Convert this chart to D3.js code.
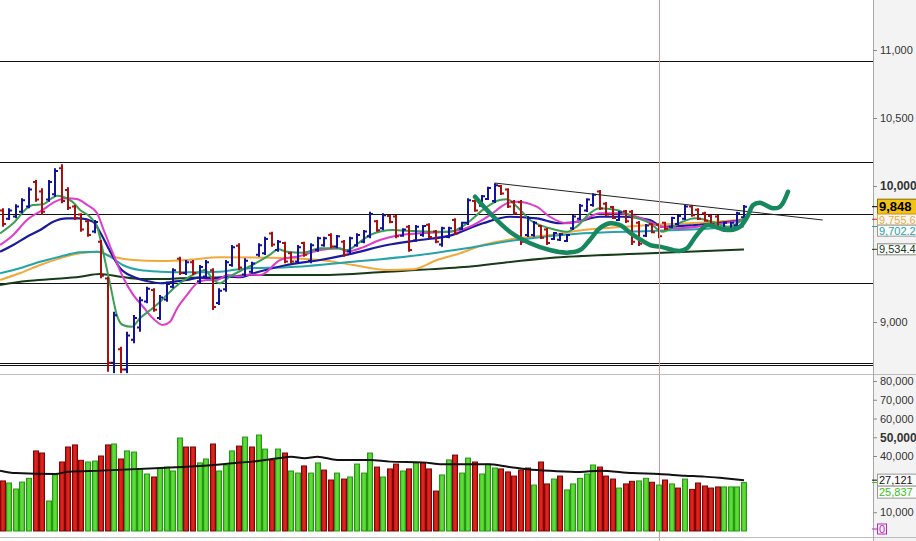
<!DOCTYPE html>
<html><head><meta charset="utf-8">
<script src="https://cdn.jsdelivr.net/npm/d3@7"></script>
<style>body{margin:0;background:#fff;}svg{display:block;font-family:"Liberation Sans",Arial,sans-serif;}</style>
</head><body><svg id="c" width="916" height="541"></svg>
<script>
// ---------- DATA ----------
const barOpen=[9820,9760,9775,9810,9850,10030,9960,9900,9940,10130,
9970,9850,9790,9740,9665,9590,9320,8700,8800,8650,
8870,8960,9150,9235,9030,9165,9260,9465,9360,9440,
9300,9335,9380,9140,9240,9420,9560,9350,9370,9495,
9505,9650,9530,9580,9505,9445,9580,9450,9530,9565,
9640,9555,9590,9520,9565,9590,9630,9740,9690,9780,
9775,9635,9700,9600,9640,9715,9665,9570,9625,9750,
9685,9730,9890,9855,9905,9890,10000,9975,9885,9880,
9640,9640,9705,9680,9610,9605,9595,9690,9760,9820,
9860,9960,9870,9845,9750,9815,9810,9730,9635,9720,
9715,9730,9700,9720,9760,9850,9825,9800,9780,9775,
9675,9675,9710,9770];
const barHigh=[9836,9836,9865,9910,9990,10044,9983,10044,10130,10160,
9990,9860,9799,9750,9750,9603,9333,9076,8818,8929,
9051,9186,9260,9248,9199,9296,9395,9480,9456,9456,
9419,9456,9395,9248,9456,9566,9579,9468,9443,9579,
9627,9664,9603,9590,9517,9566,9590,9579,9627,9627,
9652,9640,9603,9627,9652,9676,9811,9750,9799,9787,
9787,9689,9713,9713,9713,9726,9676,9701,9701,9762,
9738,9910,9897,9934,9995,10020,10007,9983,9897,9897,
9779,9743,9713,9691,9662,9654,9647,9787,9868,9910,
9946,9971,9882,9853,9816,9824,9824,9743,9721,9726,
9726,9738,9774,9787,9860,9860,9836,9811,9787,9787,
9738,9738,9811,9860];
const barLow=[9701,9750,9762,9799,9836,9885,9787,9885,9921,9873,
9824,9750,9664,9627,9652,9321,8635,8623,8623,8623,
8843,8929,9137,9076,9015,9149,9248,9346,9346,9346,
9285,9321,9088,9125,9223,9407,9382,9333,9358,9480,
9493,9554,9517,9432,9432,9432,9480,9432,9517,9554,
9542,9542,9480,9505,9554,9579,9615,9664,9676,9726,
9615,9627,9517,9590,9627,9615,9579,9554,9615,9640,
9676,9713,9811,9848,9897,9875,9934,9838,9787,9566,
9625,9627,9610,9566,9603,9596,9588,9676,9750,9809,
9848,9824,9779,9757,9743,9728,9566,9559,9625,9652,
9615,9676,9689,9713,9750,9774,9750,9738,9713,9676,
9664,9664,9701,9762];
const barClose=[9720,9820,9850,9895,9975,9900,9810,10030,10110,9890,
9840,9765,9680,9640,9735,9340,8700,9050,8650,8900,
9030,9160,9245,9090,9180,9280,9380,9360,9440,9360,
9405,9440,9110,9230,9440,9550,9400,9450,9430,9565,
9610,9570,9590,9445,9445,9550,9495,9565,9615,9615,
9555,9630,9495,9615,9640,9665,9795,9675,9785,9735,
9630,9680,9530,9700,9705,9625,9590,9690,9690,9650,
9730,9895,9820,9925,9985,10005,9945,9850,9800,9590,
9765,9730,9620,9580,9655,9645,9640,9775,9855,9900,
9935,9835,9790,9765,9805,9740,9590,9575,9710,9660,
9630,9685,9765,9780,9850,9785,9760,9745,9720,9690,
9730,9730,9800,9848];
const volume=[26700,25600,22400,26100,28100,42700,41600,16000,29900,36800,
44800,45900,37700,36800,37300,40000,45900,46400,38400,42700,
42100,33100,30400,28800,33600,34100,32000,49600,44800,44800,
36300,38400,46400,32000,35200,42700,45300,50100,44800,51200,
43700,37900,43700,41600,32000,30900,34700,30900,36300,32500,
27200,30900,27700,28800,35700,30900,41600,34100,28800,33100,
35700,32000,33100,36300,36300,33100,21300,29900,37900,40500,
30900,38900,36800,30400,35700,33600,33100,31500,29300,32500,
33600,24500,36800,25100,27700,29300,21900,25100,28100,30400,
35200,34100,29300,27700,22900,25100,26500,26700,28100,26000,
24500,27200,25100,22900,27700,22200,25600,24000,22900,23500,
23500,23500,23500,25837];
const volDir=("rggggrrggr"+"rrrggrrgrg"+"gggrggggrr"+"ggrgggrgrg"+"grgrggrggr"+
"rgrggggrgr"+"rgrgrrrggr"+"ggrgggrrrr"+"rgrrgrgggg"+"grrrgrrggr"+"grgrgrrrrr"+"gggg").split("");

// moving averages: [bar index, value]
const maGreen=[[-0.4,9652],[1.6,9726],[3.7,9836],[4.6,9860],[6.1,9865],[7.5,9910],[8.3,9929],[9.2,9921],[10.6,9885],[11.8,9824],[13.3,9774],[14.4,9701],[15.3,9517],[16.4,9272],[17.4,9051],[18.3,8978],[19.7,8965],[20.9,9027],[22.5,9088],[24,9149],[25.5,9223],[27,9285],[28.5,9333],[30.1,9370],[30.8,9382],[32.1,9309],[33.1,9285],[34.6,9333],[36.2,9375],[37.7,9410],[40.7,9493],[42,9535],[43.3,9517],[45.8,9510],[48.4,9542],[50.9,9542],[52.5,9529],[54.5,9590],[56,9640],[59.5,9676],[61.6,9671],[65.6,9664],[68.2,9664],[70.8,9726],[73.2,9824],[75.8,9897],[76.9,9902],[78.4,9848],[80.4,9750],[83.4,9689],[86,9664],[87.5,9701],[89.5,9799],[91,9836],[93.6,9824],[96.1,9774],[98.7,9726],[100.5,9664],[103.6,9737],[105.5,9762],[108.1,9737],[110.6,9701],[113,9762]];
const maMagenta=[[-0.4,9566],[1.6,9640],[3.7,9750],[6.1,9824],[8,9885],[9.8,9910],[11.3,9904],[12.9,9860],[14.4,9799],[15.3,9689],[16.8,9505],[18.3,9333],[19.9,9199],[21.4,9112],[22.9,9027],[24.4,8978],[25.5,9002],[26.6,9101],[28.1,9199],[29.6,9285],[31.1,9309],[32.7,9309],[34.2,9346],[36.2,9335],[37.7,9350],[39.3,9346],[42.3,9456],[45.3,9485],[48.4,9529],[51.4,9542],[52.5,9517],[54.5,9542],[57.5,9603],[60.6,9640],[63.6,9652],[67.7,9664],[69.7,9676],[71.2,9701],[74.3,9787],[76.9,9873],[78.4,9885],[81.4,9848],[83.4,9774],[86,9726],[88.5,9750],[91,9799],[93.6,9799],[96.7,9774],[98.7,9735],[100.5,9700],[102.9,9689],[108.1,9713],[113,9750]];
const maBlue=[[-0.4,9517],[1.6,9566],[3.7,9627],[5.7,9676],[7.7,9737],[9.8,9762],[11.8,9762],[13.8,9737],[14.8,9664],[16.4,9517],[17.9,9395],[19.9,9333],[22,9301],[24,9285],[26,9296],[28.1,9309],[30.1,9326],[32.1,9321],[34.2,9333],[36.2,9330],[38.2,9358],[43.3,9419],[48.4,9456],[53.4,9505],[58.6,9566],[63.6,9603],[68.2,9635],[73.2,9726],[77.3,9774],[81.4,9762],[84.9,9726],[87.5,9737],[91,9774],[94.6,9774],[98.7,9750],[100.5,9700],[105.5,9713],[113,9750]];
const maTeal=[[-0.4,9358],[2.6,9395],[5.7,9443],[8.7,9480],[11.8,9512],[14.4,9517],[16.4,9480],[18.3,9419],[20.9,9382],[24,9370],[28.1,9365],[33.1,9370],[35.1,9382],[37.7,9395],[43.3,9402],[53.4,9443],[63.6,9493],[69.7,9535],[78.4,9603],[88.5,9652],[98.7,9669],[105,9680],[113,9702]];
const maOrange=[[-0.4,9309],[2.6,9358],[5.7,9419],[8.7,9468],[11.8,9505],[14.4,9517],[16.8,9480],[19.9,9456],[24,9449],[28.1,9456],[33.1,9476],[40.7,9473],[48.4,9456],[53.4,9419],[58.6,9382],[62.5,9387],[66.2,9456],[69.7,9505],[73.2,9566],[78.4,9615],[83.4,9640],[88.5,9676],[93.6,9696],[98.7,9713],[108.1,9735],[113,9756]];
const maLong=[[-0.4,9272],[3.7,9301],[7.7,9316],[11.8,9333],[14.8,9353],[17.9,9333],[20.9,9316],[25,9316],[29,9326],[33.1,9327],[37.7,9346],[48.4,9346],[58.6,9370],[69.7,9402],[83.4,9471],[98.7,9505],[113,9534]];
const volMA=[[-0.4,32200],[2,30900],[8,30400],[10,31600],[15,32200],[25,33800],[30,34700],[35,36100],[38,37000],[42,38800],[44,39600],[46,38800],[48,39600],[51,37900],[56,37900],[59,37000],[64,36600],[67,35600],[74,35600],[77,34300],[80,32900],[84,32000],[88,31500],[91,32200],[96,30900],[100,30400],[104,29500],[107,29000],[110,28100],[113,27121]];
// drawn annotations
const handCurve=[[72,9921],[74.3,9799],[77.3,9664],[80.4,9579],[83.4,9529],[86,9510],[88,9529],[89.5,9603],[91,9689],[92.6,9726],[94.1,9713],[96.1,9640],[98.7,9566],[100.2,9554],[103.2,9522],[104.3,9542],[105.8,9640],[107.4,9713],[109.3,9689],[110.9,9676],[112.4,9701],[113.5,9774],[114.4,9860],[115.4,9877],[117.4,9836],[118.5,9848],[119.7,9958]];
const trendLine=[[75,10022],[125,9750]];
const hLevels=[10921,10180,9792,9290,8700,8682];
const markerBar=100;
const priceTicks=[11000,10500,10000,9000];
const volTicks=[80000,70000,60000,50000,40000,10000];
const priceMarkers=[9848,9755.6,9702.2,9534.4];
const priceMarkerText=["9,848","9,755.6","9,702.2","9,534.4"];
const volMarkers=[27121,25837];
const volMarkerText=["27,121","25,837"];

// ---------- CHART ----------
const W=916,H=541,AX=873;
const svg=d3.select('#c');
const x=d3.scaleLinear().domain([0,113]).range([2.7,744]);
const yP=d3.scaleLinear().domain([9000,10000]).range([322,186]);
const yV=d3.scaleLinear().domain([0,80000]).range([531,381]);

svg.append('rect').attr('width',W).attr('height',H).attr('fill','#fff');
svg.append('rect').attr('x',AX).attr('width',W-AX).attr('height',H).attr('fill','#f3f3f3');

const defs=svg.append('defs');
defs.append('clipPath').attr('id','cp').append('rect').attr('x',0).attr('y',0).attr('width',AX).attr('height',373.5);
defs.append('clipPath').attr('id','cv').append('rect').attr('x',0).attr('y',374.5).attr('width',AX).attr('height',162);
function grad(id,edge,mid){
  const g=defs.append('linearGradient').attr('id',id).attr('x1','0').attr('x2','1').attr('y1','0').attr('y2','0');
  g.append('stop').attr('offset','0').attr('stop-color',edge);
  g.append('stop').attr('offset','0.5').attr('stop-color',mid);
  g.append('stop').attr('offset','1').attr('stop-color',edge);
}
grad('gr','#b80c0c','#e42a22');
grad('gg','#3cbf22','#6be040');

// price panel
const gp=svg.append('g').attr('clip-path','url(#cp)');
gp.selectAll('line.h').data(hLevels).join('line')
  .attr('x1',0).attr('x2',AX).attr('y1',d=>Math.round(yP(d))+0.5).attr('y2',d=>Math.round(yP(d))+0.5)
  .attr('stroke','#111').attr('stroke-width',1);

// vertical marker (both panels)
svg.append('line').attr('x1',Math.round(x(markerBar))+0.5).attr('x2',Math.round(x(markerBar))+0.5)
  .attr('y1',0).attr('y2',541).attr('stroke','#d29a96').attr('stroke-width',1);

const lineP=d3.line().x(d=>x(d[0])).y(d=>yP(d[1])).curve(d3.curveMonotoneX);
const mas=[[maLong,'#173a17',2],[maOrange,'#f2a93b',2],[maTeal,'#25a3a8',2],[maBlue,'#1b1b9e',2.2],[maMagenta,'#e03ccc',2],[maGreen,'#3a9e55',2]];
mas.forEach(([d,c,w])=>gp.append('path').attr('d',lineP(d)).attr('fill','none').attr('stroke',c).attr('stroke-width',w));

// OHLC bars
const idx=d3.range(barOpen.length);
gp.selectAll('path.bar').data(idx).join('path')
  .attr('d',i=>{const xi=Math.round(x(i));
    return `M${xi},${yP(barHigh[i])}V${yP(barLow[i])}M${xi-3},${yP(barOpen[i])}H${xi}M${xi},${yP(barClose[i])}H${xi+3}`;})
  .attr('fill','none').attr('stroke',i=>barClose[i]>=barOpen[i]?'#12129a':'#a81010').attr('stroke-width',2);

// annotations
gp.append('path').attr('d',d3.line().x(d=>x(d[0])).y(d=>yP(d[1]))(trendLine)).attr('stroke','#222').attr('stroke-width',1).attr('fill','none');
gp.append('path').attr('d',d3.line().x(d=>x(d[0])).y(d=>yP(d[1])).curve(d3.curveCatmullRom.alpha(0.5))(handCurve))
  .attr('fill','none').attr('stroke','#17875e').attr('stroke-width',4.5).attr('stroke-linecap','round').attr('stroke-linejoin','round');

// panel separators
[374,537].forEach(y=>svg.append('line').attr('x1',0).attr('x2',W).attr('y1',y+0.5).attr('y2',y+0.5).attr('stroke','#bdbdbd'));

// volume panel
const gv=svg.append('g').attr('clip-path','url(#cv)');
gv.selectAll('rect.v').data(idx).join('rect')
  .attr('x',i=>Math.round(x(i))-2.5).attr('width',5)
  .attr('y',i=>yV(volume[i])).attr('height',i=>yV(0)-yV(volume[i]))
  .attr('fill',i=>volDir[i]==='g'?'url(#gg)':'url(#gr)')
  .attr('stroke',i=>volDir[i]==='g'?'#249a14':'#7a0606').attr('stroke-width',1);
gv.append('path').attr('d',d3.line().x(d=>x(d[0])).y(d=>yV(d[1])).curve(d3.curveMonotoneX)(volMA))
  .attr('fill','none').attr('stroke','#111').attr('stroke-width',2);

// axis border
svg.append('line').attr('x1',AX+0.5).attr('x2',AX+0.5).attr('y1',0).attr('y2',H).attr('stroke','#a8a8a8');

function styleAxis(g){
  g.select('.domain').remove();
  g.selectAll('.tick line').attr('stroke','#888');
  g.selectAll('.tick text').attr('fill','#333').attr('font-size',11).attr('font-family','"Liberation Sans",Arial,sans-serif');
}
const fmt=d3.format(',');
const ga=svg.append('g').attr('transform',`translate(${AX},0)`)
  .call(d3.axisRight(yP).tickValues(priceTicks).tickFormat(fmt).tickSize(4).tickPadding(3));
styleAxis(ga);
ga.selectAll('.tick text').filter(d=>d===10000).attr('font-weight','bold').attr('font-size',12);
const gva=svg.append('g').attr('transform',`translate(${AX},0)`)
  .call(d3.axisRight(yV).tickValues(volTicks).tickFormat(fmt).tickSize(4).tickPadding(3));
styleAxis(gva);
gva.selectAll('.tick text').filter(d=>d===50000).attr('font-weight','bold').attr('font-size',12);

// value markers on the axis
function markers(vals,texts,scale,styles){
  let prevBottom=-1e9;
  vals.forEach((v,k)=>{
    const s=styles[k];
    let cy=Math.max(scale(v),prevBottom+s.h/2);
    prevBottom=cy+s.h/2;
    svg.append('line').attr('x1',AX-1).attr('x2',AX+4).attr('y1',scale(v)).attr('y2',scale(v)).attr('stroke',s.tick);
    svg.append('rect').attr('x',AX+4.5).attr('y',cy-s.h/2).attr('width',W-AX).attr('height',s.h)
      .attr('fill',s.fill).attr('stroke',s.stroke).attr('stroke-width',1);
    svg.append('text').attr('x',AX+6).attr('y',cy).attr('dy','0.36em').text(texts[k])
      .attr('fill',s.color).attr('font-size',s.fs).attr('font-weight',s.bold?'bold':'normal');
  });
}
markers(priceMarkers,priceMarkerText,yP,[
  {h:15,fill:'#f2c313',stroke:'#8a6d00',color:'#000',fs:13,bold:true,tick:'#000'},
  {h:11,fill:'#f7f7f7',stroke:'#f2a93b',color:'#f2a93b',fs:11,tick:'#d02020'},
  {h:11,fill:'#fbfbfb',stroke:'#999',color:'#25a3a8',fs:11,tick:'#25a3a8'},
  {h:11,fill:'#fbfbfb',stroke:'#888',color:'#173a17',fs:11,tick:'#173a17'}]);
markers(volMarkers,volMarkerText,yV,[
  {h:12,fill:'#fbfbfb',stroke:'#999',color:'#111',fs:11,tick:'#111'},
  {h:12,fill:'#fbfbfb',stroke:'#999',color:'#3cbf22',fs:11,tick:'#3cbf22'}]);
// zero marker
svg.append('line').attr('x1',AX-1).attr('x2',AX+4).attr('y1',yV(0)-2).attr('y2',yV(0)-2).attr('stroke','#c020c0');
svg.append('rect').attr('x',AX+4.5).attr('y',yV(0)-7).attr('width',9).attr('height',10).attr('fill','#fbfbfb').attr('stroke','#c020c0');
svg.append('text').attr('x',AX+6).attr('y',yV(0)-2).attr('dy','0.36em').text('0').attr('fill','#c020c0').attr('font-size',11);
</script></body></html>
